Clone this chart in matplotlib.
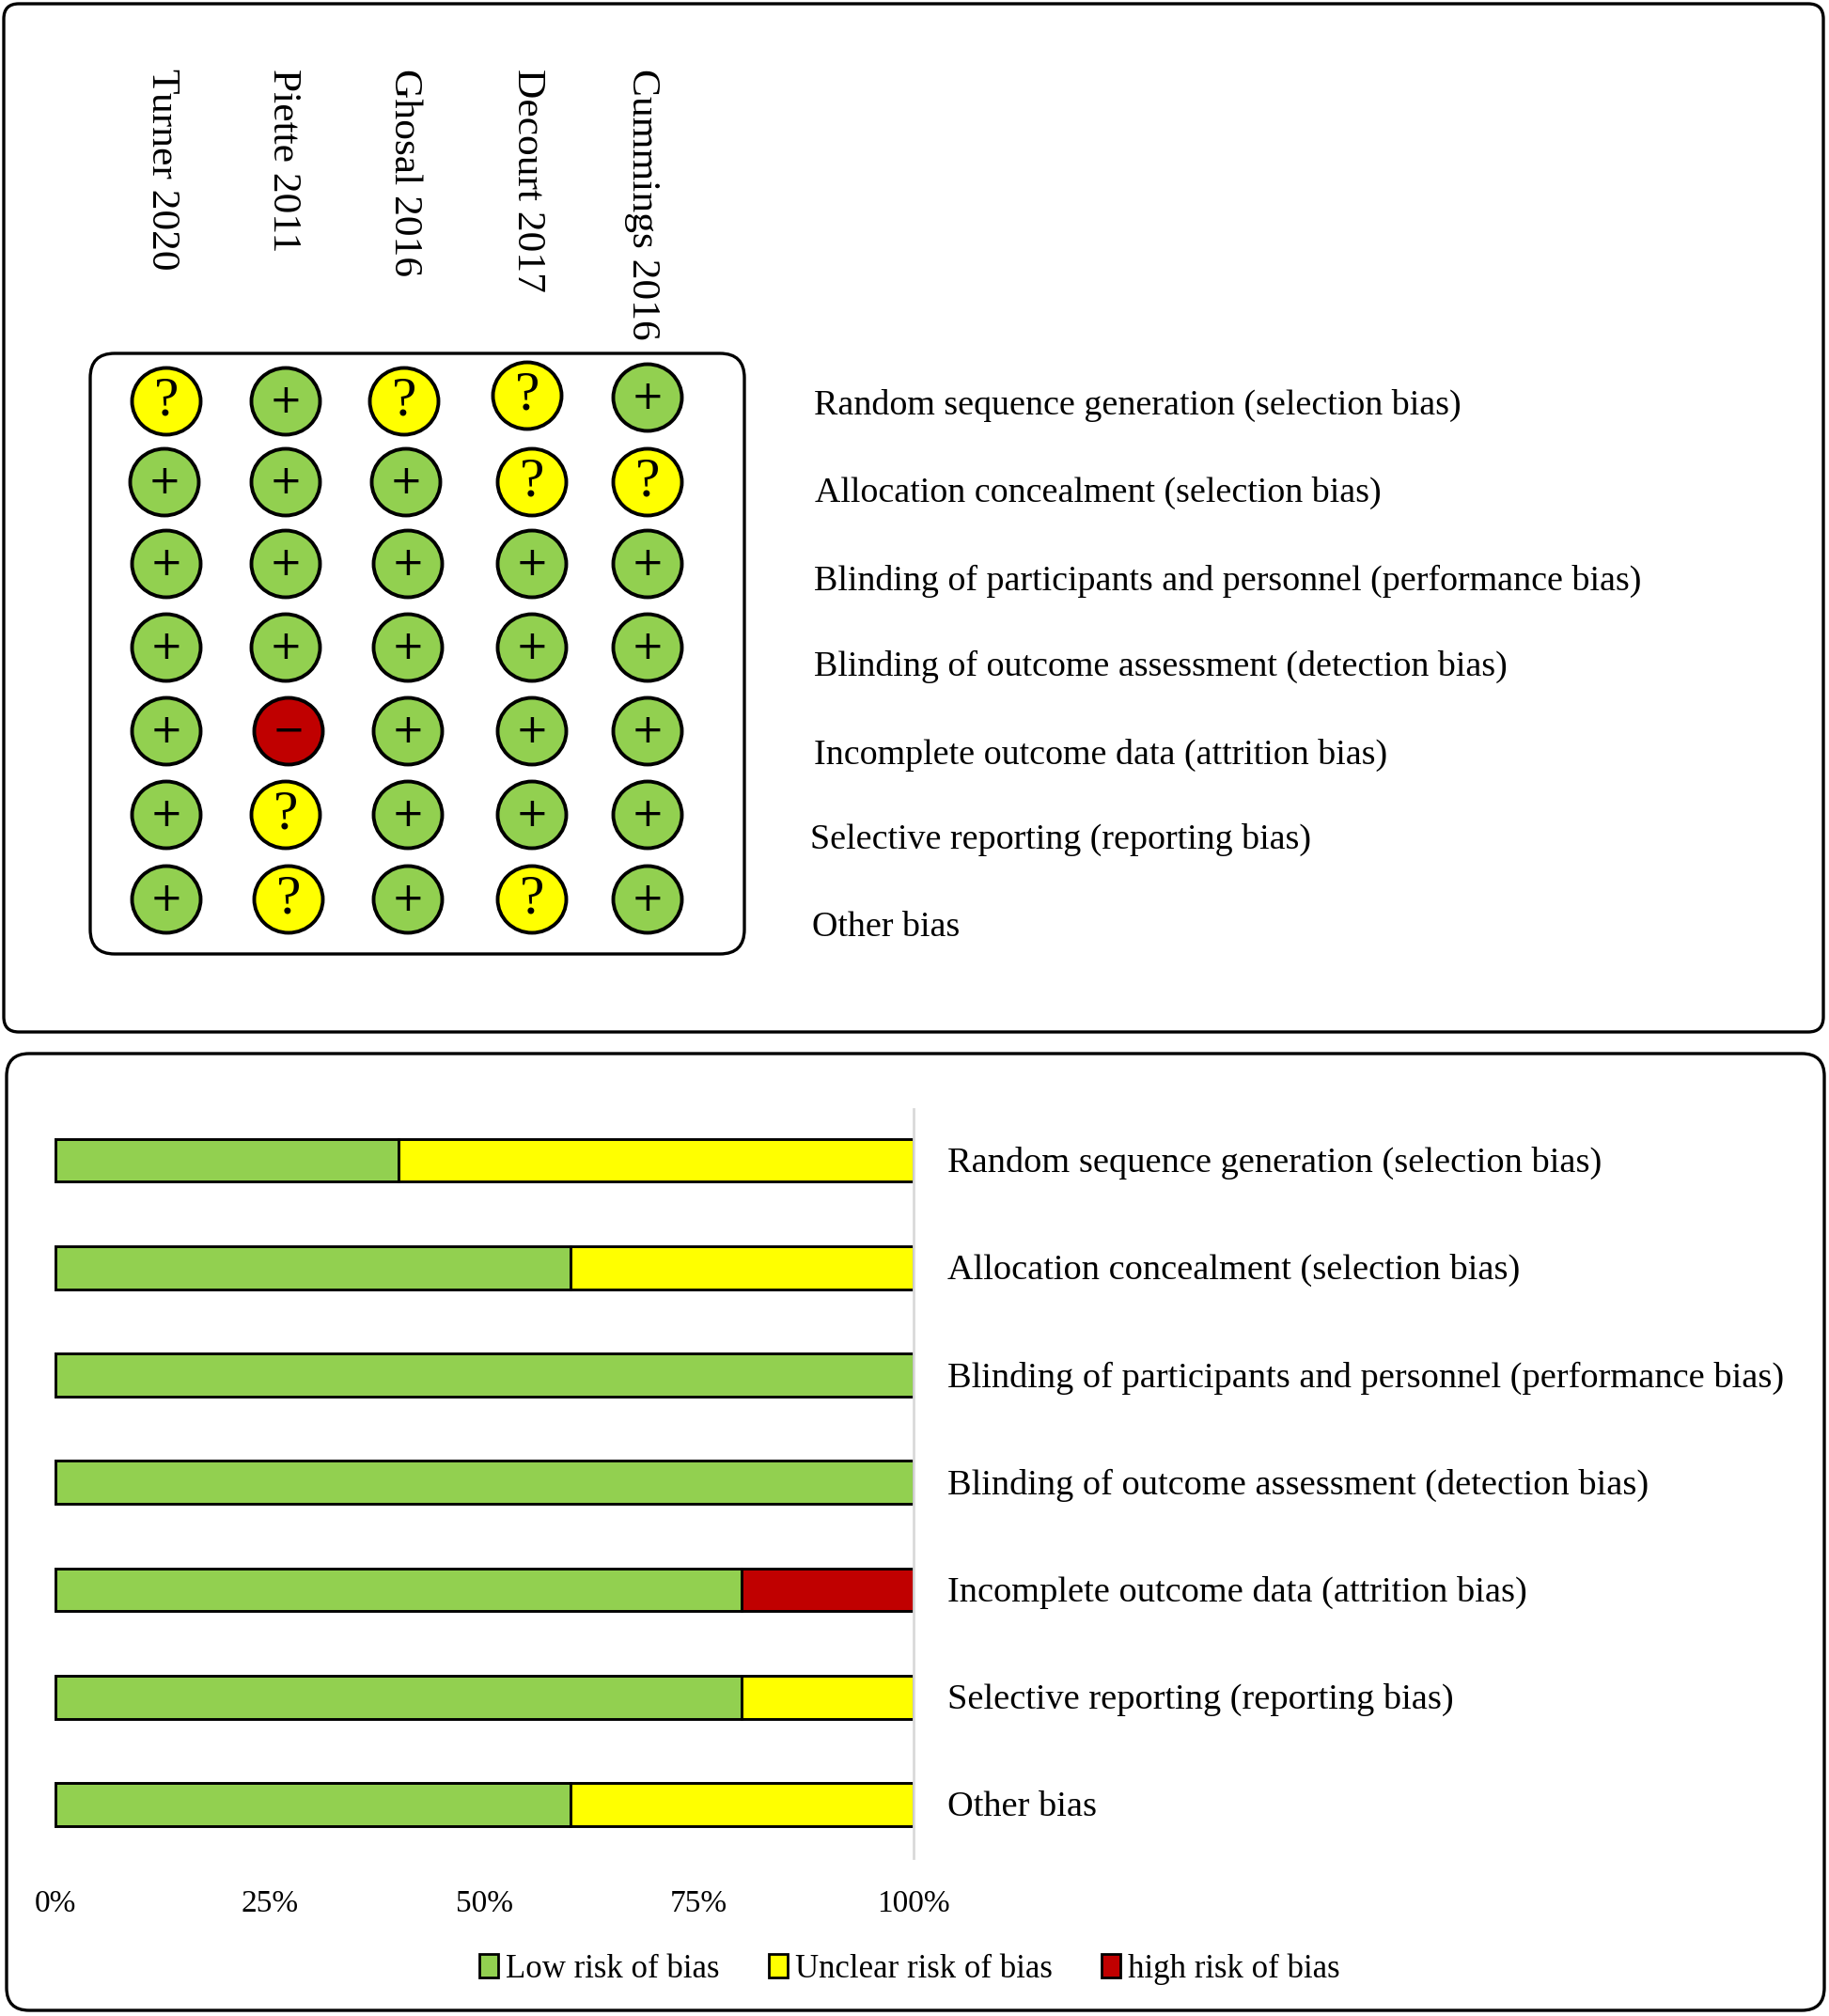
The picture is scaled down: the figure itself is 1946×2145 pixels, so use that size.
import matplotlib
matplotlib.use("Agg")
import matplotlib.pyplot as plt
from matplotlib.patches import FancyBboxPatch, Ellipse

# ---------- data ----------
studies = ["Turner 2020", "Piette 2011", "Ghosal 2016", "Decourt 2017", "Cummings 2016"]
domains = ["Random sequence generation (selection bias)",
           "Allocation concealment (selection bias)",
           "Blinding of participants and personnel (performance bias)",
           "Blinding of outcome assessment (detection bias)",
           "Incomplete outcome data (attrition bias)",
           "Selective reporting (reporting bias)",
           "Other bias"]
row1 = ["?", "+", "?", "?", "+"]
row2 = ["+", "+", "+", "?", "?"]
row3 = ["+", "+", "+", "+", "+"]
row4 = ["+", "+", "+", "+", "+"]
row5 = ["+", "-", "+", "+", "+"]
row6 = ["+", "?", "+", "+", "+"]
row7 = ["+", "?", "+", "?", "+"]
judgements = [row1, row2, row3, row4, row5, row6, row7]
low = [40, 60, 100, 100, 80, 80, 60]
unclear = [60, 40, 0, 0, 0, 20, 40]
high = [0, 0, 0, 0, 20, 0, 0]
xticks = [0, 25, 50, 75, 100]
xticklabels = ["0%", "25%", "50%", "75%", "100%"]
legend_labels = ["Low risk of bias", "Unclear risk of bias", "high risk of bias"]

# ---------- style / layout ----------
GREEN, YELLOW, RED = "#92D050", "#FFFF00", "#C00000"
W, H = 1946, 2145
SERIF = "Liberation Serif"
col_px = [177, 304, 434, 566, 689]
row_px = [427, 513, 600, 689, 778, 867, 957]
cell_dx = {(0, 2): -4, (0, 3): -5, (1, 0): -2, (1, 2): -2, (4, 1): 3, (6, 1): 3}
cell_dy = {(0, 3): -6, (0, 4): -4}
fill = {"+": GREEN, "?": YELLOW, "-": RED}
col_label_x = [172, 301, 430, 561, 683]
grid_label_x = [866, 867, 866, 866, 866, 862, 864]
grid_label_y = [431, 524, 618, 709, 803, 893, 987]

fig = plt.figure(figsize=(W / 100, H / 100), dpi=100, facecolor="white")

# overlay in pixel coordinates for panels and risk-of-bias grid
ov = fig.add_axes([0, 0, 1, 1], zorder=1)
ov.set_xlim(0, W)
ov.set_ylim(H, 0)
ov.axis("off")
ov.patch.set_alpha(0)

def frame(x0, y0, x1, y1, r, lw):
    ov.add_patch(FancyBboxPatch((x0 + r, y0 + r), x1 - x0 - 2 * r, y1 - y0 - 2 * r,
                                boxstyle=f"round,pad={r},rounding_size={r}",
                                fc="none", ec="black", lw=lw))

frame(4, 4, 1940, 1098, 16, 2.4)
frame(7, 1121, 1941, 2139, 24, 2.4)
frame(96, 376, 792, 1015, 26, 2.4)

for j, s in enumerate(studies):
    ov.text(col_label_x[j], 73, s, rotation=-90, ha="center", va="top",
            family=SERIF, fontsize=31.3)

for i, row in enumerate(judgements):
    for j, v in enumerate(row):
        x = col_px[j] + cell_dx.get((i, j), 0)
        y = row_px[i] + cell_dy.get((i, j), 0)
        ov.add_patch(Ellipse((x, y), 73, 71, fc=fill[v], ec="black", lw=2.8))
        if v == "?":
            ov.text(x, y, "?", ha="center", va="center", family=SERIF, fontsize=43)
        elif v == "+":
            ov.text(x, y, "+", ha="center", va="center", family="DejaVu Sans", fontsize=30)
        else:
            ov.text(x, y, "\u2212", ha="center", va="center", family="DejaVu Sans", fontsize=30)

for i, d in enumerate(domains):
    ov.text(grid_label_x[i], grid_label_y[i], d, ha="left", va="center",
            family=SERIF, fontsize=27.4)

# summary bar chart
x100, x0 = 972, 59
per = (x100 - x0) / 100
left_px = x0 - per
ax = fig.add_axes([left_px / W, 1 - 1977 / H, (x100 - left_px) / W, (1976 - 1179) / H], zorder=2)
ax.patch.set_alpha(0)
ax.set_xlim(-1, 100)
ax.set_ylim(6.5, -0.478)
for sp in ax.spines.values():
    sp.set_visible(False)

handles = []
for vals, starts, color in [(low, [0] * 7, GREEN),
                            (unclear, low, YELLOW),
                            (high, [a + b for a, b in zip(low, unclear)], RED)]:
    idx = [i for i, v in enumerate(vals) if v > 0]
    b = ax.barh(idx, [vals[i] for i in idx], left=[starts[i] for i in idx], height=0.4,
                color=color, edgecolor="black", linewidth=2.1, zorder=2)
    handles.append(b)
ax.axvline(100, color="#D9D9D9", lw=2, zorder=3, clip_on=False)
ax.set_yticks([])
ax.set_xticks(xticks)
ax.set_xticklabels(xticklabels, family=SERIF, fontsize=24)
ax.tick_params(axis="x", length=0, pad=24)
for i, d in enumerate(domains):
    ax.annotate(d, (100, i), xytext=(1008, -3), xycoords=("data", "data"),
                textcoords=("figure pixels", "offset pixels"),
                ha="left", va="center", family=SERIF, fontsize=27.6, annotation_clip=False)

leg = fig.legend(handles=handles, labels=legend_labels, loc="center",
                 bbox_to_anchor=(968 / W, 1 - 2095 / H), ncol=3, frameon=False,
                 prop={"family": SERIF, "size": 25}, handlelength=0.58, handleheight=0.7,
                 handletextpad=0.23, columnspacing=1.5, borderpad=0)
for h in leg.legend_handles:
    h.set_linewidth(2.0)

fig.savefig("out.png", dpi=100, facecolor="white")
